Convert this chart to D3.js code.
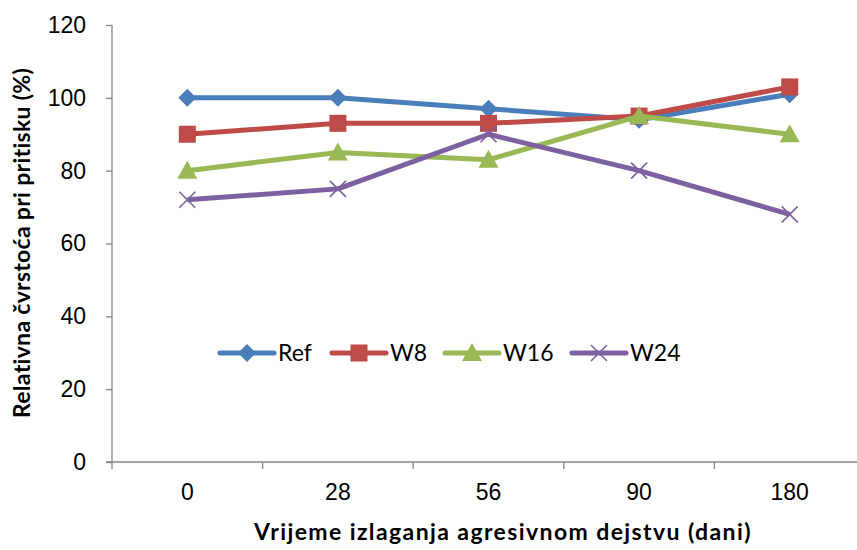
<!DOCTYPE html>
<html>
<head>
<meta charset="utf-8">
<script src="https://cdn.jsdelivr.net/npm/d3@7"></script>
<style>
  body { margin: 0; background: #fff; }
  svg { display: block; font-family: Lato, "Open Sans", sans-serif; }
</style>
</head>
<body>
<script>
var categories = ["0", "28", "56", "90", "180"];
var seriesNames = ["Ref", "W8", "W16", "W24"];
var refValues = [100, 100, 97, 94, 101];
var w8Values = [90, 93, 93, 95, 103];
var w16Values = [80, 85, 83, 95, 90];
var w24Values = [72, 75, 90, 80, 68];
var yTicks = [0, 20, 40, 60, 80, 100, 120];

var width = 857, height = 550;
var margin = { top: 25, right: -8, bottom: 88, left: 112 };

var colors = ["#4a7ebb", "#be4b48", "#98b954", "#7d60a0"];
var shapes = ["diamond", "square", "triangle", "cross"];

var series = [refValues, w8Values, w16Values, w24Values].map(function (vals, i) {
    return { name: seriesNames[i], color: colors[i], shape: shapes[i],
             values: vals.map(function (v, j) { return { cat: categories[j], value: v }; }) };
});

var svg = d3.select("body").append("svg")
    .attr("width", width)
    .attr("height", height);

var x = d3.scaleBand()
    .domain(categories)
    .range([margin.left, width - margin.right]);

var y = d3.scaleLinear()
    .domain([0, 120])
    .range([height - margin.bottom, margin.top]);

// axes
var xAxis = svg.append("g")
    .attr("transform", "translate(0," + y(0) + ")")
    .call(d3.axisBottom(x).tickSize(0).tickPadding(22));
xAxis.select(".domain").attr("stroke", "#868686").attr("stroke-width", 1.3)
    .attr("d", "M" + (margin.left - 6) + ",0H" + (width - margin.right));
xAxis.selectAll("text").attr("font-size", 23).attr("fill", "#000");

// category boundary ticks
svg.append("g").selectAll("line")
    .data(categories)
    .enter().append("line")
    .attr("x1", function (d) { return x(d); })
    .attr("x2", function (d) { return x(d); })
    .attr("y1", y(0))
    .attr("y2", y(0) + 7)
    .attr("stroke", "#868686")
    .attr("stroke-width", 1.3);

var yAxis = svg.append("g")
    .attr("transform", "translate(" + margin.left + ",0)")
    .call(d3.axisLeft(y).tickValues(yTicks).tickSize(6).tickPadding(20));
yAxis.select(".domain").attr("stroke", "#868686").attr("stroke-width", 1.3)
    .attr("d", "M0," + y(120) + "V" + y(0));
yAxis.selectAll(".tick line").attr("stroke", "#868686").attr("stroke-width", 1.3);
yAxis.selectAll("text").attr("font-size", 23).attr("fill", "#000");

// titles
svg.append("text")
    .attr("x", 503)
    .attr("y", 540)
    .attr("text-anchor", "middle")
    .attr("font-size", 23)
    .attr("font-weight", "bold")
    .attr("letter-spacing", 1.4)
    .text("Vrijeme izlaganja agresivnom dejstvu (dani)");

svg.append("text")
    .attr("transform", "translate(30," + 243 + ") rotate(-90)")
    .attr("text-anchor", "middle")
    .attr("font-size", 23)
    .attr("font-weight", "bold")
    .attr("letter-spacing", 0.3)
    .text("Relativna čvrstoća pri pritisku (%)");

function drawMarker(g, shape, color) {
    if (shape === "diamond") {
        g.append("path").attr("d", "M0,-9L9,0L0,9L-9,0Z").attr("fill", color);
    } else if (shape === "square") {
        g.append("rect").attr("x", -8.5).attr("y", -8.5).attr("width", 17).attr("height", 17).attr("fill", color);
    } else if (shape === "triangle") {
        g.append("path").attr("d", "M0,-10L10,8L-10,8Z").attr("fill", color);
    } else {
        g.append("path").attr("d", "M-8,-8L8,8M-8,8L8,-8")
            .attr("stroke", color).attr("stroke-width", 1.6).attr("fill", "none");
    }
}

var line = d3.line()
    .x(function (d) { return x(d.cat) + x.bandwidth() / 2; })
    .y(function (d) { return y(d.value); });

series.forEach(function (s) {
    svg.append("path")
        .datum(s.values)
        .attr("fill", "none")
        .attr("stroke", s.color)
        .attr("stroke-width", 5)
        .attr("stroke-linejoin", "round")
        .attr("d", line);
    s.values.forEach(function (d) {
        var g = svg.append("g")
            .attr("transform", "translate(" + (x(d.cat) + x.bandwidth() / 2) + "," + y(d.value) + ")");
        drawMarker(g, s.shape, s.color);
    });
});

// legend
var legendX = [220, 332, 445, 572];
var legendY = 353;
series.forEach(function (s, i) {
    var lg = svg.append("g").attr("transform", "translate(" + legendX[i] + "," + legendY + ")");
    lg.append("line")
        .attr("x1", 0).attr("x2", 54)
        .attr("stroke", s.color).attr("stroke-width", 5).attr("stroke-linecap", "round");
    drawMarker(lg.append("g").attr("transform", "translate(27,0)"), s.shape, s.color);
    lg.append("text")
        .attr("x", 58).attr("y", 0).attr("dy", "0.35em")
        .attr("font-size", 23)
        .text(s.name);
});
</script>
</body>
</html>
